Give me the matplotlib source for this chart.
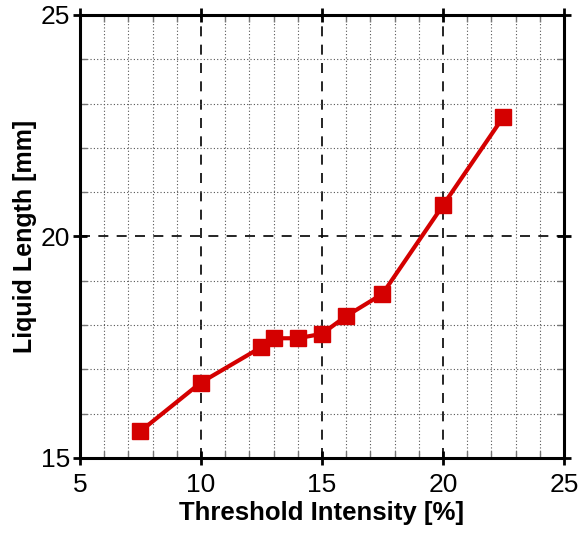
import matplotlib
matplotlib.use("Agg")
import matplotlib.pyplot as plt
from matplotlib.ticker import MultipleLocator

plt.rcParams['font.family'] = ['Liberation Sans', 'DejaVu Sans']

# threshold intensity [%] vs liquid length [mm]
threshold = [7.5, 10, 12.5, 13, 14, 15, 16, 17.5, 20, 22.5]
liquid_len = [15.6, 16.7, 17.5, 17.7, 17.7, 17.8, 18.2, 18.7, 20.7, 22.7]

fig = plt.figure(figsize=(5.79, 5.33), dpi=100)
ax = fig.add_axes([0.138, 0.141, 0.836, 0.831])

ax.plot(threshold, liquid_len, color='#d40000', lw=3, marker='s', ms=11.5,
        mec='#d40000', zorder=5)

ax.set_xlim(5, 25)
ax.set_ylim(15, 25)
ax.xaxis.set_major_locator(MultipleLocator(5))
ax.yaxis.set_major_locator(MultipleLocator(5))
ax.xaxis.set_minor_locator(MultipleLocator(1))
ax.yaxis.set_minor_locator(MultipleLocator(1))

ax.grid(which='major', color='black', ls=(0, (6, 5)), lw=1.2)
ax.grid(which='minor', color='#555555', ls=(0, (1, 2)), lw=0.8)

for s in ax.spines.values():
    s.set_linewidth(2.2)

ax.tick_params(which='major', direction='inout', length=10, width=2,
               top=True, right=True, labelsize=19)
ax.tick_params(axis='x', which='major', pad=6)
ax.tick_params(axis='y', which='major', pad=2)
ax.tick_params(which='minor', direction='in', length=5, width=1,
               color='#777777', top=True, right=True)

ax.set_xlabel('Threshold Intensity [%]', fontsize=18.5, fontweight='bold', labelpad=3)
ax.set_ylabel('Liquid Length [mm]', fontsize=18, fontweight='bold', labelpad=3)

fig.savefig('out.png', dpi=100)
